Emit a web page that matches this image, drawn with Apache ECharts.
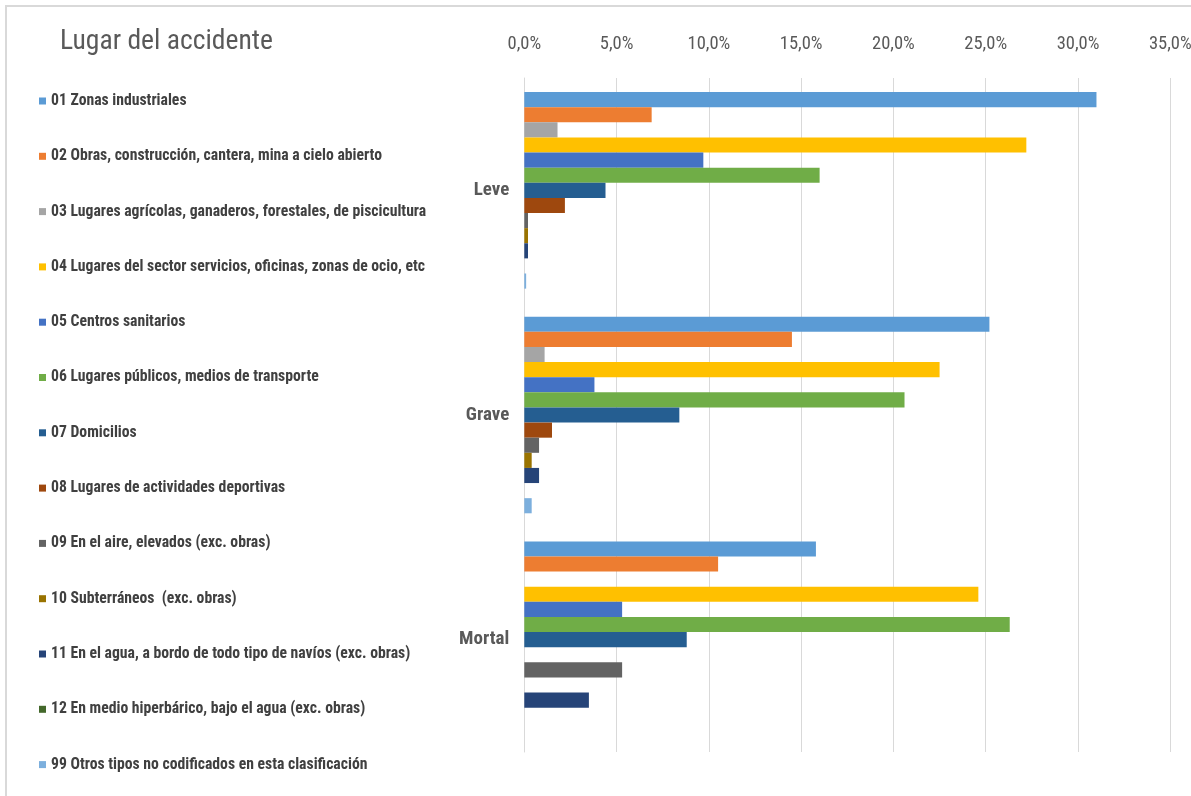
<!DOCTYPE html>
<html>
<head>
<meta charset="utf-8">
<script src="https://cdn.jsdelivr.net/npm/echarts@6/dist/echarts.min.js"></script>
<style>
html,body{margin:0;padding:0;background:#fff;}
#main{width:1191px;height:796px;}
</style>
</head>
<body>
<div id="main"></div>
<script>
var categories = ['Leve', 'Grave', 'Mortal'];
var seriesNames = [
  '01 Zonas industriales',
  '02 Obras, construcción, cantera, mina a cielo abierto',
  '03 Lugares agrícolas, ganaderos, forestales, de piscicultura',
  '04 Lugares del sector servicios, oficinas, zonas de ocio, etc',
  '05 Centros sanitarios',
  '06 Lugares públicos, medios de transporte',
  '07 Domicilios',
  '08 Lugares de actividades deportivas',
  '09 En el aire, elevados (exc. obras)',
  '10 Subterráneos  (exc. obras)',
  '11 En el agua, a bordo de todo tipo de navíos (exc. obras)',
  '12 En medio hiperbárico, bajo el agua (exc. obras)',
  '99 Otros tipos no codificados en esta clasificación'
];
// values in percent, per category [Leve, Grave, Mortal]
var s01 = [31.0, 25.2, 15.8];
var s02 = [6.9, 14.5, 10.5];
var s03 = [1.8, 1.1, 0];
var s04 = [27.2, 22.5, 24.6];
var s05 = [9.7, 3.8, 5.3];
var s06 = [16.0, 20.6, 26.3];
var s07 = [4.4, 8.4, 8.8];
var s08 = [2.2, 1.5, 0];
var s09 = [0.2, 0.8, 5.3];
var s10 = [0.2, 0.4, 0];
var s11 = [0.2, 0.8, 3.5];
var s12 = [0, 0, 0];
var s99 = [0.1, 0.4, 0];
var seriesValues = [s01, s02, s03, s04, s05, s06, s07, s08, s09, s10, s11, s12, s99];
var tickValues = [0, 5, 10, 15, 20, 25, 30, 35];

var colors = ['#5B9BD5', '#ED7D31', '#A5A5A5', '#FFC000', '#4472C4', '#70AD47',
              '#255E91', '#9E480E', '#636363', '#997300', '#264478', '#43682B', '#7CAFDD'];

var FONT = 'Roboto, "Liberation Sans", sans-serif';

var chart = echarts.init(document.getElementById('main'), null, {renderer: 'canvas'});

var series = seriesNames.map(function (name, i) {
  return {
    name: name,
    type: 'bar',
    data: seriesValues[i],
    barGap: '0%',
    barCategoryGap: '12.5%',
    itemStyle: {color: colors[i]},
    emphasis: {disabled: true}
  };
});

chart.setOption({
  animation: false,
  color: colors,
  title: {
    text: 'Lugar del accidente',
    left: 55,
    top: 23,
    textStyle: {fontFamily: FONT, fontStyle: 'condensed', fontSize: 27.6, fontWeight: 'normal', color: '#595959'}
  },
  graphic: [{
    type: 'polyline',
    shape: {points: [[6, 800], [6, 6], [1195, 6]]},
    style: {stroke: '#D9D9D9', lineWidth: 2, fill: null},
    silent: true
  }],
  legend: {
    orient: 'vertical',
    left: 34,
    top: 88,
    itemWidth: 7,
    itemHeight: 7,
    itemGap: 39.3,
    icon: 'rect',
    selectedMode: false,
    data: seriesNames,
    textStyle: {fontFamily: FONT, fontStyle: 'condensed', fontSize: 15.7, fontWeight: 'bold', color: '#404040', lineHeight: 16}
  },
  grid: {left: 524.3, right: 20.7, top: 78, bottom: 44, containLabel: false, outerBoundsMode: 'none'},
  xAxis: {
    type: 'value',
    position: 'top',
    min: tickValues[0],
    max: tickValues[tickValues.length - 1],
    interval: 5,
    axisLine: {show: false},
    axisTick: {show: false},
    splitLine: {lineStyle: {color: '#D9D9D9', width: 1}},
    axisLabel: {
      margin: 24,
      fontFamily: FONT,
      fontStyle: 'condensed',
      fontSize: 18.5,
      color: '#595959',
      formatter: function (v) { return v.toFixed(1).replace('.', ',') + '%'; }
    }
  },
  yAxis: {
    type: 'category',
    inverse: true,
    data: categories,
    axisLine: {show: true, lineStyle: {color: '#D9D9D9', width: 1}},
    axisTick: {show: false},
    axisLabel: {margin: 15, fontFamily: FONT, fontStyle: 'condensed', fontSize: 19, fontWeight: 'bold', color: '#595959', padding: [3, 0, 0, 0]}
  },
  series: series
});
</script>
</body>
</html>
